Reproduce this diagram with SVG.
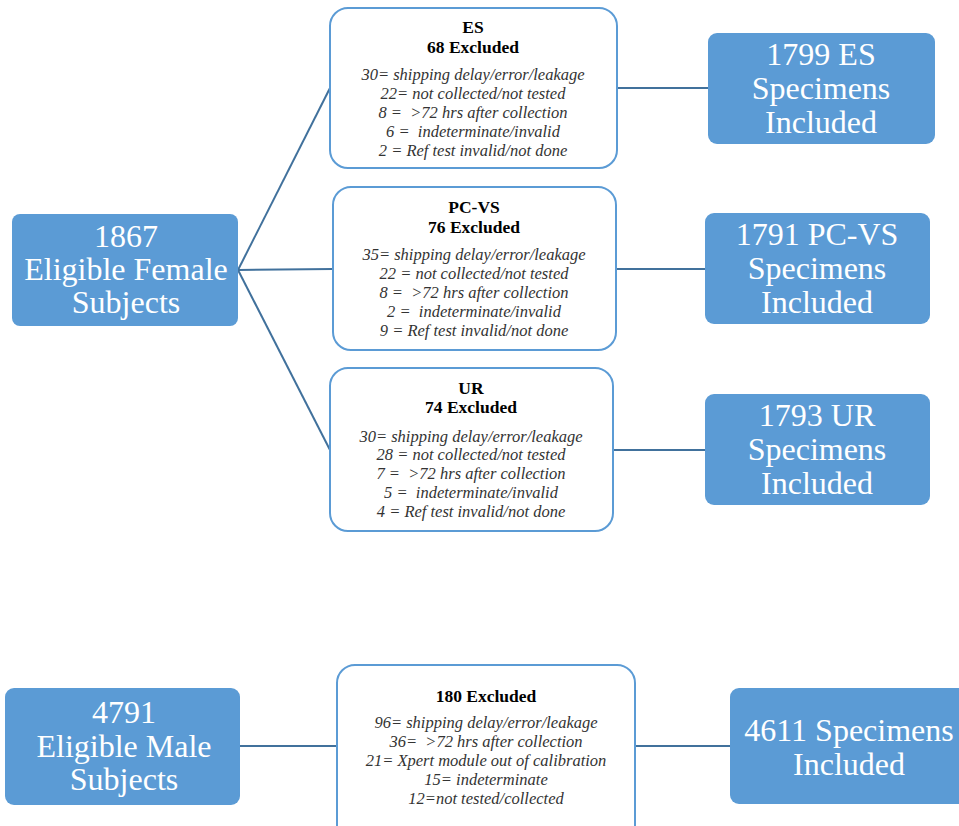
<svg xmlns="http://www.w3.org/2000/svg" width="959" height="826" viewBox="0 0 959 826">
<style>
text{font-family:"Liberation Serif","Times New Roman",serif}
.solid{fill:#5B9BD5;stroke:none}
.out{fill:#fff;stroke:#5B9BD5;stroke-width:2}
.big{font-size:32px;fill:#fff;text-anchor:middle}
.hd{font-size:17.5px;font-weight:bold;fill:#000;text-anchor:middle}
.it{font-size:16.5px;font-style:italic;fill:#333;text-anchor:middle;white-space:pre}
.conn{stroke:#41719C;stroke-width:2;fill:none}
</style>
<rect width="959" height="826" fill="#fff"/>
<g id="connectors">
<line class="conn" x1="238" y1="270" x2="330" y2="88"/>
<line class="conn" x1="238" y1="270" x2="333" y2="269"/>
<line class="conn" x1="238" y1="270" x2="330" y2="450"/>
<line class="conn" x1="617" y1="88" x2="708" y2="88"/>
<line class="conn" x1="616" y1="269" x2="705" y2="269"/>
<line class="conn" x1="613" y1="450" x2="705" y2="450"/>
<line class="conn" x1="240" y1="746" x2="337" y2="746"/>
<line class="conn" x1="635" y1="746" x2="730" y2="746"/>
</g>
<g id="female">
<rect class="solid" x="12" y="214" width="226" height="112" rx="8"/>
<text class="big" x="126" y="247">1867</text>
<text class="big" x="126" y="280">Eligible Female</text>
<text class="big" x="126" y="313">Subjects</text>
</g>
<g id="es-excl">
<rect class="out" x="330" y="8" width="287" height="160" rx="18"/>
<text class="hd" x="473" y="33">ES</text>
<text class="hd" x="473" y="53">68 Excluded</text>
<text class="it" x="473" y="80">30= shipping delay/error/leakage</text>
<text class="it" x="473" y="99">22= not collected/not tested</text>
<text class="it" x="473" y="118">8 =  &gt;72 hrs after collection</text>
<text class="it" x="473" y="137">6 =  indeterminate/invalid</text>
<text class="it" x="473" y="156">2 = Ref test invalid/not done</text>
</g>
<g id="pcvs-excl">
<rect class="out" x="333" y="187" width="283" height="163" rx="18"/>
<text class="hd" x="474" y="213">PC-VS</text>
<text class="hd" x="474" y="233">76 Excluded</text>
<text class="it" x="474" y="260">35= shipping delay/error/leakage</text>
<text class="it" x="474" y="279">22 = not collected/not tested</text>
<text class="it" x="474" y="298">8 =  &gt;72 hrs after collection</text>
<text class="it" x="474" y="317">2 =  indeterminate/invalid</text>
<text class="it" x="474" y="336">9 = Ref test invalid/not done</text>
</g>
<g id="ur-excl">
<rect class="out" x="330" y="368" width="283" height="163" rx="18"/>
<text class="hd" x="471" y="394">UR</text>
<text class="hd" x="471" y="413">74 Excluded</text>
<text class="it" x="471" y="442">30= shipping delay/error/leakage</text>
<text class="it" x="471" y="460">28 = not collected/not tested</text>
<text class="it" x="471" y="479">7 =  &gt;72 hrs after collection</text>
<text class="it" x="471" y="498">5 =  indeterminate/invalid</text>
<text class="it" x="471" y="517">4 = Ref test invalid/not done</text>
</g>
<g id="es-incl">
<rect class="solid" x="708" y="33" width="227" height="111" rx="9"/>
<text class="big" x="821" y="65">1799 ES</text>
<text class="big" x="821" y="99">Specimens</text>
<text class="big" x="821" y="133">Included</text>
</g>
<g id="pcvs-incl">
<rect class="solid" x="705" y="213" width="225" height="111" rx="9"/>
<text class="big" x="817" y="245">1791 PC-VS</text>
<text class="big" x="817" y="279">Specimens</text>
<text class="big" x="817" y="313">Included</text>
</g>
<g id="ur-incl">
<rect class="solid" x="705" y="394" width="225" height="111" rx="9"/>
<text class="big" x="817" y="426">1793 UR</text>
<text class="big" x="817" y="460">Specimens</text>
<text class="big" x="817" y="494">Included</text>
</g>
<g id="male">
<rect class="solid" x="5" y="688" width="235" height="117" rx="9"/>
<text class="big" x="124" y="723">4791</text>
<text class="big" x="124" y="757">Eligible Male</text>
<text class="big" x="124" y="790">Subjects</text>
</g>
<g id="male-excl">
<rect class="out" x="337" y="665" width="298" height="180" rx="18"/>
<text class="hd" x="486" y="702">180 Excluded</text>
<text class="it" x="486" y="728">96= shipping delay/error/leakage</text>
<text class="it" x="486" y="747">36=  &gt;72 hrs after collection</text>
<text class="it" x="486" y="766">21= Xpert module out of calibration</text>
<text class="it" x="486" y="785">15= indeterminate</text>
<text class="it" x="486" y="804">12=not tested/collected</text>
</g>
<g id="male-incl">
<rect class="solid" x="730" y="688" width="240" height="116" rx="9"/>
<text class="big" x="849" y="741">4611 Specimens</text>
<text class="big" x="849" y="775">Included</text>
</g>
</svg>
